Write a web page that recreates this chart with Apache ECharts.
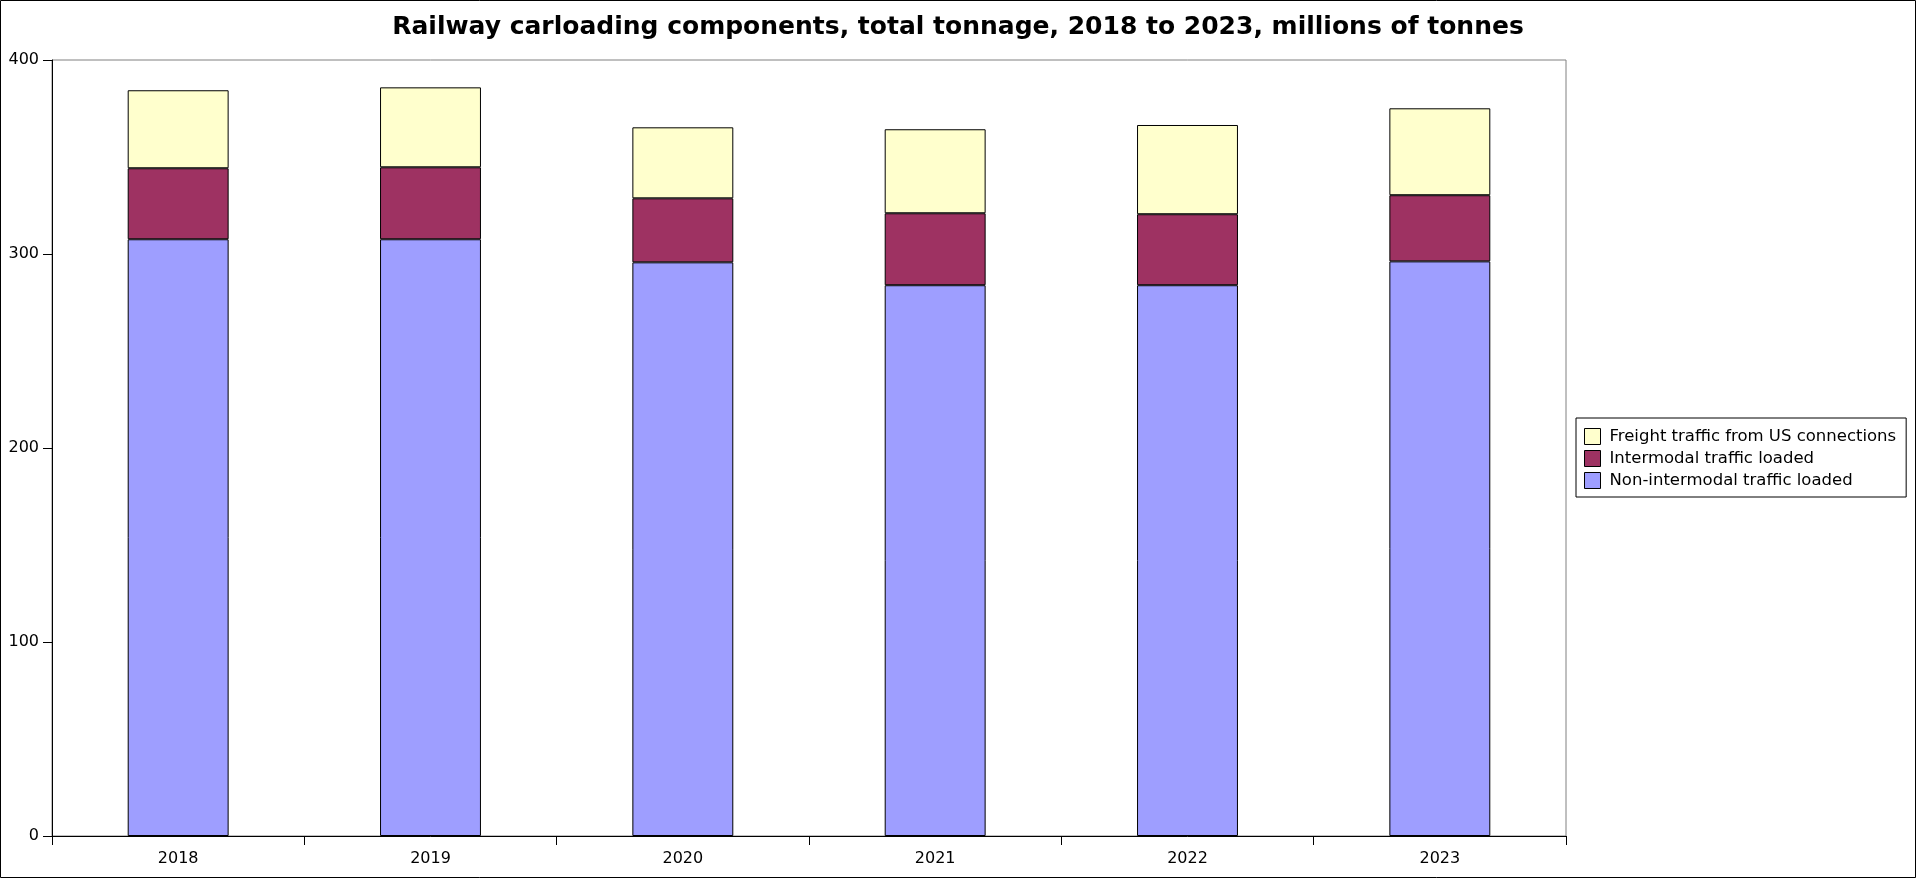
<!DOCTYPE html>
<html><head><meta charset="utf-8">
<script src="https://cdn.jsdelivr.net/npm/echarts@6/dist/echarts.min.js"></script>
<style>html,body{margin:0;padding:0;background:#fff}#c{width:1916px;height:878px}</style>
</head><body><div id="c"></div>
<script>
const years = ['2018', '2019', '2020', '2021', '2022', '2023'];
const nonIntermodal = [307.6, 307.6, 295.7, 283.9, 283.9, 296.2];
const intermodal = [36.6, 37.1, 33.0, 37.1, 36.6, 34.1];
const freightUS = [40.2, 41.2, 36.6, 43.3, 46.0, 44.8];
const yTicks = [0, 100, 200, 300, 400];

const FONT = 'DejaVu Sans';
const chart = echarts.init(document.getElementById('c'), null, {renderer: 'canvas'});
const barStyle = (c) => ({color: c, borderColor: '#000', borderWidth: 1});
chart.setOption({
  animation: false,
  backgroundColor: '#fff',
  textStyle: {fontFamily: FONT},
  title: {
    text: 'Railway carloading components, total tonnage, 2018 to 2023, millions of tonnes',
    left: 'center', top: 10,
    textStyle: {fontFamily: FONT, fontWeight: 'bold', fontSize: 25, color: '#000'}
  },
  graphic: [{
    type: 'rect', shape: {x: 0.5, y: 0.5, width: 1915, height: 877},
    style: {fill: 'none', stroke: '#000', lineWidth: 1}, z: 100
  }],
  grid: {left: 52, right: 350, top: 60, bottom: 42, show: true, borderColor: '#808080', borderWidth: 1, backgroundColor: 'transparent'},
  legend: {
    orient: 'vertical', left: 1576, top: 418,
    padding: [10, 10, 8, 8],
    icon: 'rect',
    itemWidth: 16, itemHeight: 16, itemGap: 5,
    borderColor: '#000', borderWidth: 1,
    data: ['Freight traffic from US connections', 'Intermodal traffic loaded', 'Non-intermodal traffic loaded'],
    textStyle: {fontFamily: FONT, fontSize: 16.5, color: '#000', padding: [0, 0, 0, 4]},
    itemStyle: {borderColor: '#000', borderWidth: 1}
  },
  xAxis: {
    type: 'category', data: years,
    axisLine: {lineStyle: {color: '#000', width: 1}},
    axisTick: {show: true, length: 9, lineStyle: {color: '#000'}},
    axisLabel: {fontFamily: FONT, fontSize: 16, color: '#000', margin: 15},
    splitLine: {show: false}
  },
  yAxis: {
    type: 'value', min: yTicks[0], max: yTicks[yTicks.length - 1], interval: 100,
    axisLine: {show: true, lineStyle: {color: '#000', width: 1}},
    axisTick: {show: true, length: 9, lineStyle: {color: '#000'}},
    axisLabel: {fontFamily: FONT, fontSize: 16, color: '#000', margin: 13},
    splitLine: {show: false}
  },
  series: [
    {name: 'Non-intermodal traffic loaded', type: 'bar', stack: 't', data: nonIntermodal, barWidth: '40%', itemStyle: barStyle('#9e9eff')},
    {name: 'Intermodal traffic loaded', type: 'bar', stack: 't', data: intermodal, barWidth: '40%', itemStyle: barStyle('#9e3262')},
    {name: 'Freight traffic from US connections', type: 'bar', stack: 't', data: freightUS, barWidth: '40%', itemStyle: barStyle('#ffffcd')}
  ]
});
</script></body></html>
